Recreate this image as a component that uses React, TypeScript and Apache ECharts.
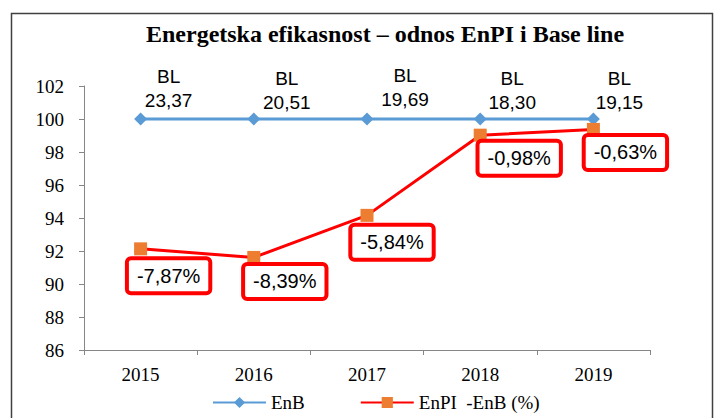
import React, { useEffect, useRef } from "react";
import * as echarts from "echarts";

const years = ["2015", "2016", "2017", "2018", "2019"];
const enb = [100, 100, 100, 100, 100];
const baseLine = [23.37, 20.51, 19.69, 18.3, 19.15];
const enpi = [92.13, 91.61, 94.16, 99.02, 99.37];
const pctDiff = [-7.87, -8.39, -5.84, -0.98, -0.63];
const yTicks = { min: 86, max: 102, interval: 2 };

// label layout (pixel offsets from marker)
const blOffsets = [[28, -31], [33, -29], [38, -32], [32, -29], [26, -29]];
const pctOffsets = [[28, 27], [31, 24], [25, 27], [39, 23], [32, 23]];

const fmt = (v: number) => v.toFixed(2).replace(".", ",");

export default function App() {
  const ref = useRef<HTMLDivElement>(null);
  useEffect(() => {
    document.body.style.margin = "0";
    const chart = echarts.init(ref.current!, null, { renderer: "svg" });
    const serif = "'Liberation Serif', 'Times New Roman', serif";
    const sans = "'Liberation Sans', Arial, sans-serif";
    chart.setOption({
      animation: false,
      backgroundColor: "#ffffff",
      title: {
        text: "Energetska efikasnost – odnos EnPI i Base line",
        left: 380,
        textAlign: "center",
        top: 17,
        textStyle: { fontFamily: serif, fontWeight: "bold", fontSize: 24, color: "#000" },
      },
      graphic: [
        {
          type: "rect",
          shape: { x: 11.5, y: 13.5, width: 701, height: 420 },
          style: { fill: "none", stroke: "#404040", lineWidth: 1.5 },
          silent: true,
        },
      ],
      legend: {
        left: 212,
        top: 393,
        itemWidth: 53,
        itemHeight: 14,
        itemGap: 55,
        padding: 0,
        textStyle: { fontFamily: serif, fontSize: 19, color: "#000" },
        data: ["EnB", "EnPI  -EnB (%)"],
      },
      grid: { left: 84, right: 65, top: 86, bottom: 68 },
      xAxis: {
        type: "category",
        data: years,
        boundaryGap: true,
        axisLine: { lineStyle: { color: "#868686", width: 1 } },
        axisTick: { show: true, length: 5, alignWithLabel: false, lineStyle: { color: "#868686" } },
        axisLabel: { fontFamily: serif, fontSize: 19, color: "#000", margin: 15 },
        splitLine: { show: false },
      },
      yAxis: {
        type: "value",
        min: yTicks.min,
        max: yTicks.max,
        interval: yTicks.interval,
        axisLine: { show: true, lineStyle: { color: "#868686", width: 1 } },
        axisTick: { show: true, length: 5, lineStyle: { color: "#868686" } },
        axisLabel: { fontFamily: serif, fontSize: 19, color: "#000", margin: 20 },
        splitLine: { show: false },
      },
      series: [
        {
          name: "EnB",
          type: "line",
          data: enb.map((v, i) => ({ value: v, label: { offset: blOffsets[i] } })),
          symbol: "diamond",
          symbolSize: 13,
          itemStyle: { color: "#5B9BD5" },
          lineStyle: { color: "#5B9BD5", width: 3 },
          z: 2,
          label: {
            show: true,
            position: "inside",
            fontFamily: sans,
            fontSize: 19,
            lineHeight: 24,
            color: "#000",
            align: "center",
            formatter: (p: any) => "BL\n" + fmt(baseLine[p.dataIndex]),
          },
        },
        {
          name: "EnPI  -EnB (%)",
          type: "line",
          data: enpi.map((v, i) => ({ value: v, label: { offset: pctOffsets[i] } })),
          symbol: "rect",
          symbolSize: 13,
          itemStyle: { color: "#ED7D31" },
          lineStyle: { color: "#FF0000", width: 3 },
          z: 3,
          label: {
            show: true,
            position: "inside",
            fontFamily: sans,
            fontSize: 20,
            lineHeight: 22,
            color: "#000",
            backgroundColor: "#ffffff",
            borderColor: "#FF0000",
            borderWidth: 4,
            borderRadius: 2,
            padding: [5, 8, 4, 8],
            formatter: (p: any) => fmt(pctDiff[p.dataIndex]) + "%",
          },
        },
      ],
    });
    return () => chart.dispose();
  }, []);
  return <div ref={ref} style={{ width: 715, height: 418 }} />;
}
